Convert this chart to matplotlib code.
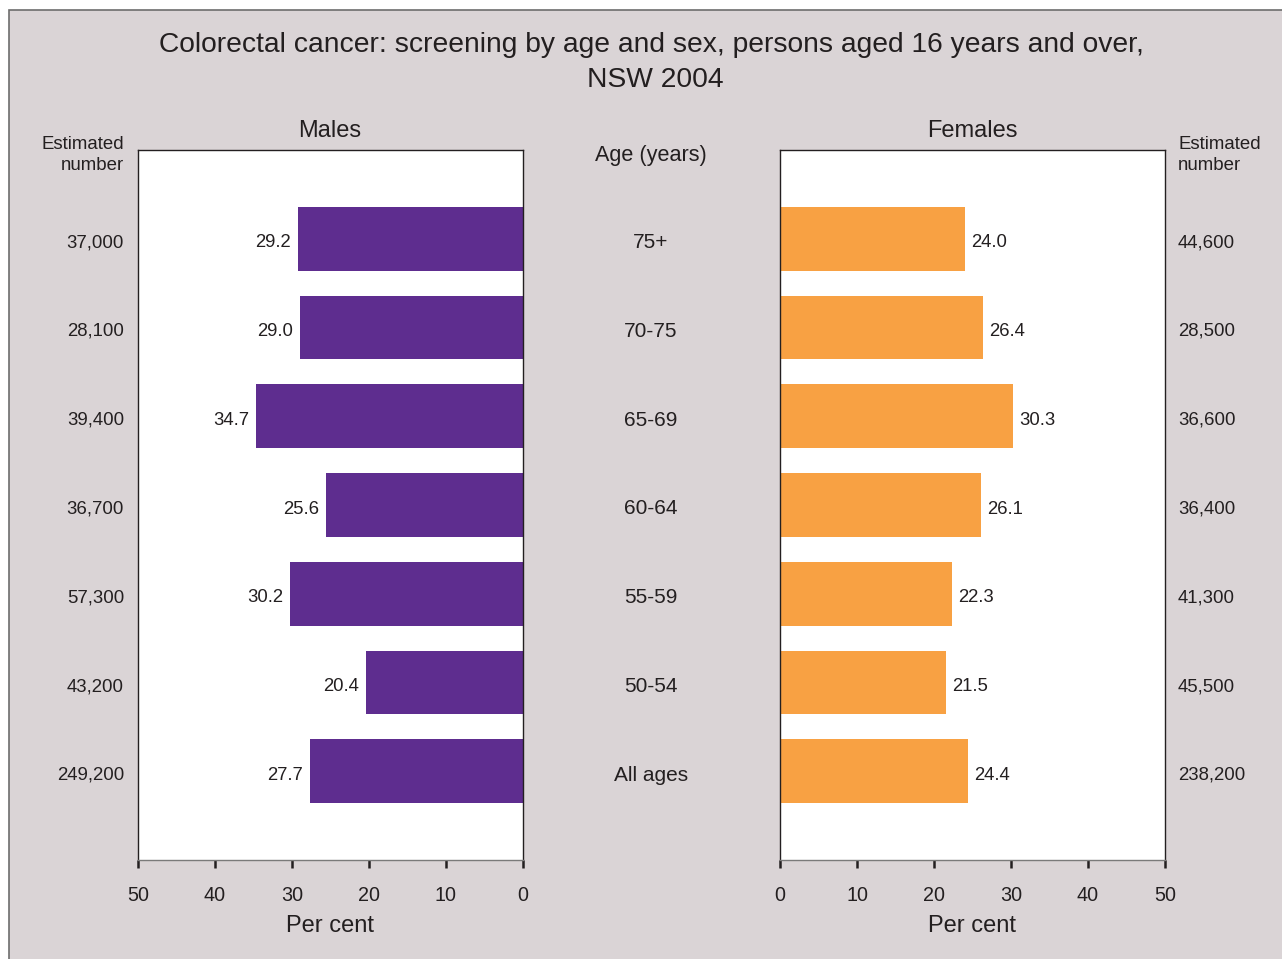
import matplotlib.pyplot as plt
import matplotlib.transforms as mtransforms
from matplotlib.patches import Rectangle

plt.rcParams['font.family'] = ['Liberation Sans', 'DejaVu Sans']

# Data
ages = ["75+", "70-75", "65-69", "60-64", "55-59", "50-54", "All ages"]
male_pct = [29.2, 29.0, 34.7, 25.6, 30.2, 20.4, 27.7]
female_pct = [24.0, 26.4, 30.3, 26.1, 22.3, 21.5, 24.4]
male_n = ["37,000", "28,100", "39,400", "36,700", "57,300", "43,200", "249,200"]
female_n = ["44,600", "28,500", "36,600", "36,400", "41,300", "45,500", "238,200"]

W, H = 1282, 959
bg = "#dad4d6"
purple = "#5e2d8f"
orange = "#f8a143"
txt = "#231f20"

fig = plt.figure(figsize=(W / 100, H / 100), dpi=100, facecolor="white")

# grey panel with frame
fig.patches.append(Rectangle((9 / W, -0.01), 1.0, 1 - 10 / H + 0.01,
                             transform=fig.transFigure, facecolor=bg,
                             edgecolor="#6d6d6d", linewidth=1.2, zorder=-5))


def fx(px):
    return px / W


def fy(py):
    # small shift down: matplotlib centres text on its full box
    return 1 - (py + 3) / H


ax_m = fig.add_axes([fx(138), 1 - 860 / H, fx(523) - fx(138), 710 / H])
ax_f = fig.add_axes([fx(780), 1 - 860 / H, fx(1165) - fx(780), 710 / H])

ypos = list(range(len(ages)))

ax_m.barh(ypos, male_pct, height=0.72, color=purple)
ax_f.barh(ypos, female_pct, height=0.72, color=orange)

for ax in (ax_m, ax_f):
    ax.set_zorder(2)
    ax.set_facecolor("white")
    ax.set_ylim(7, -1)
    ax.set_yticks([])
    ax.set_xticks([0, 10, 20, 30, 40, 50])
    ax.tick_params(axis="x", direction="out", length=6, width=1.8,
                   colors="#231f20", labelsize=14.2, pad=13)
    for s in ax.spines.values():
        s.set_color("#231f20")
        s.set_linewidth(1.0)
    ax.spines["bottom"].set_color("#7a7a7a")

ax_m.set_xlim(50, 0)
ax_f.set_xlim(0, 50)

for y, v in zip(ypos, male_pct):
    ax_m.annotate(f"{v:.1f}", (v, y), xytext=(-5, -3), textcoords="offset points",
                  ha="right", va="center", fontsize=13.3, color=txt)
for y, v in zip(ypos, female_pct):
    ax_f.annotate(f"{v:.1f}", (v, y), xytext=(4.5, -3), textcoords="offset points",
                  ha="left", va="center", fontsize=13.3, color=txt)

# side labels sharing the bar rows
tr = mtransforms.blended_transform_factory(fig.transFigure, ax_m.transData)
tr = tr + mtransforms.ScaledTranslation(0, -4 / 100, fig.dpi_scale_trans)
for y, a, mn, fn in zip(ypos, ages, male_n, female_n):
    fig.text(fx(124), y, mn, transform=tr, ha="right", va="center", fontsize=13.4, color=txt)
    fig.text(fx(1178), y, fn, transform=tr, ha="left", va="center", fontsize=13.4, color=txt)
    fig.text(fx(651), y, a, transform=tr, ha="center", va="center", fontsize=15, color=txt)

fig.text(fx(651), fy(42), "Colorectal cancer: screening by age and sex, persons aged 16 years and over,",
         ha="center", va="center", fontsize=20.3, color=txt)
fig.text(fx(655), fy(77), "NSW 2004", ha="center", va="center", fontsize=20.3, color=txt)

fig.text(fx(330), fy(128), "Males", ha="center", va="center", fontsize=17, color=txt)
fig.text(fx(972), fy(128), "Females", ha="center", va="center", fontsize=17, color=txt)
fig.text(fx(651), fy(153), "Age (years)", ha="center", va="center", fontsize=15.6, color=txt)

fig.text(fx(124), fy(152), "Estimated\nnumber", ha="right", va="center",
         fontsize=13.4, color=txt, linespacing=1.25)
fig.text(fx(1178), fy(152), "Estimated\nnumber", ha="left", va="center",
         fontsize=13.4, color=txt, linespacing=1.25)

fig.text(fx(330), fy(923), "Per cent", ha="center", va="center", fontsize=17, color=txt)
fig.text(fx(972), fy(923), "Per cent", ha="center", va="center", fontsize=17, color=txt)

fig.savefig("out.png", dpi=100, facecolor="white")
